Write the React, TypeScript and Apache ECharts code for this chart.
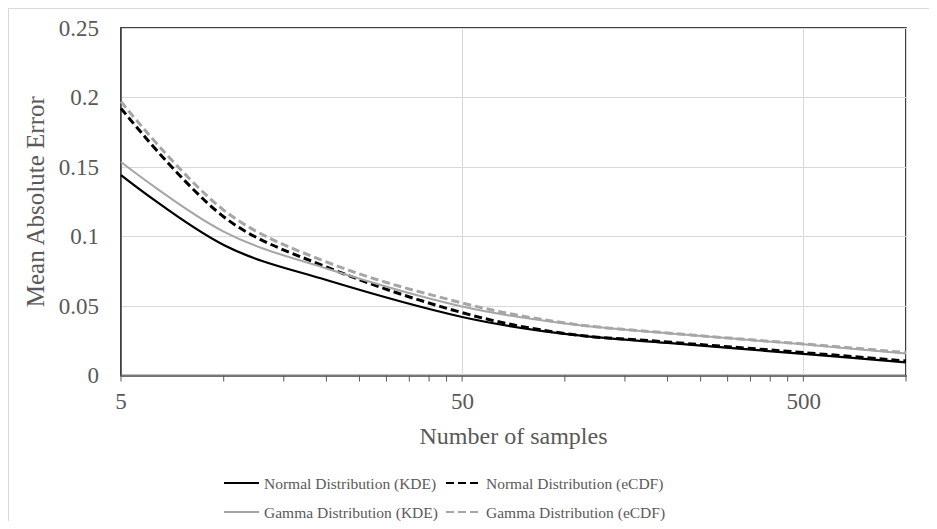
import React, { useEffect, useRef } from "react";
import * as echarts from "echarts";

const sampleSizes = [5, 10, 20, 50, 100, 200, 500, 1000];
const normalKDE = [0.1442, 0.0939, 0.0687, 0.0421, 0.0299, 0.0234, 0.0156, 0.0094];
const normalECDF = [0.1922, 0.1142, 0.0781, 0.0452, 0.0302, 0.0241, 0.0165, 0.0104];
const gammaKDE = [0.1536, 0.1035, 0.077, 0.0496, 0.0374, 0.0304, 0.0224, 0.0158];
const gammaECDF = [0.197, 0.119, 0.0817, 0.0522, 0.0378, 0.0306, 0.0227, 0.0165];
const tickSamples = [5, 10, 15, 20, 25, 30, 35, 40, 45, 50, 100, 150, 200, 250, 300, 350, 400, 450, 500, 1000];
const seriesNames = [
  "Normal Distribution (KDE)",
  "Normal Distribution (eCDF)",
  "Gamma Distribution (KDE)",
  "Gamma Distribution (eCDF)",
];

const FONT = "Liberation Serif";
const TXT = "#595959";

export default function App() {
  const ref = useRef<HTMLDivElement>(null);
  useEffect(() => {
    if (!ref.current) return;
    const chart = echarts.init(ref.current, undefined, { renderer: "svg" });
    const pts = (vals: number[]) => sampleSizes.map((n, i) => [Math.log10(n), vals[i]]);
    const mkLine = (name: string, vals: number[], color: string, width: number, dashed: boolean) => ({
      name,
      type: "line",
      data: pts(vals),
      symbol: "none",
      smooth: 0.35,
      lineStyle: { color, width, type: dashed ? [8, 4] : "solid" },
      itemStyle: { color },
      z: 3,
    });
    const legendBase = {
      orient: "horizontal",
      padding: 0,
      itemWidth: 35,
      itemHeight: 14,
      itemGap: 5,
      itemStyle: { opacity: 0 },
      textStyle: { fontFamily: FONT, fontSize: 15.5, color: TXT },
      selectedMode: false,
    };
    chart.setOption({
      animation: false,
      backgroundColor: "#fff",
      graphic: [
        { type: "line", shape: { x1: 0.5, y1: 0, x2: 0.5, y2: 513 }, style: { stroke: "#d9d9d9", lineWidth: 1 } },
        { type: "line", shape: { x1: 0, y1: 0.5, x2: 921, y2: 0.5 }, style: { stroke: "#d9d9d9", lineWidth: 1 } },
      ],
      grid: { left: 113, top: 20, right: 23, bottom: 145.5, show: true, borderColor: "#000", borderWidth: 1.5, backgroundColor: "transparent" },
      legend: [
        { ...legendBase, data: [seriesNames[0]], left: 215, top: 467 },
        { ...legendBase, data: [seriesNames[1]], left: 437, top: 467 },
        { ...legendBase, data: [seriesNames[2]], left: 215, top: 496 },
        { ...legendBase, data: [seriesNames[3]], left: 437, top: 496 },
      ],
      xAxis: {
        type: "value",
        min: Math.log10(5),
        max: 3,
        interval: 1,
        name: "Number of samples",
        nameLocation: "middle",
        nameGap: 48,
        nameTextStyle: { fontFamily: FONT, fontSize: 24, color: TXT },
        axisLine: { show: true, lineStyle: { color: "#595959", width: 1.5 } },
        axisTick: { show: false },
        axisLabel: {
          margin: 14,
          fontFamily: FONT,
          fontSize: 23,
          color: TXT,
          formatter: (v: number) => (v > 2.9 ? "" : String(Number(Math.pow(10, v).toPrecision(1)))),
        },
        splitLine: { show: true, lineStyle: { color: "#d9d9d9", width: 1 } },
      },
      yAxis: {
        type: "value",
        min: 0,
        max: 0.25,
        interval: 0.05,
        name: "Mean Absolute Error",
        nameLocation: "middle",
        nameGap: 54,
        nameTextStyle: { fontFamily: FONT, fontSize: 25, color: TXT },
        axisLine: { show: true, lineStyle: { color: "#404040", width: 1.5 } },
        axisTick: { show: false },
        axisLabel: { margin: 22, fontFamily: FONT, fontSize: 23, color: TXT, formatter: (v: number) => String(Number(v.toFixed(2))) },
        splitLine: { show: true, lineStyle: { color: "#d9d9d9", width: 1 } },
      },
      series: [
        mkLine(seriesNames[0], normalKDE, "#000000", 2.25, false),
        mkLine(seriesNames[1], normalECDF, "#000000", 3, true),
        mkLine(seriesNames[2], gammaKDE, "#a6a6a6", 2, false),
        mkLine(seriesNames[3], gammaECDF, "#a6a6a6", 3, true),
        {
          type: "custom",
          silent: true,
          clip: false,
          data: tickSamples.map((n) => [Math.log10(n), 0]),
          renderItem: (_p: any, api: any) => {
            const p = api.coord([api.value(0), 0]);
            return {
              type: "line",
              shape: { x1: p[0], y1: p[1], x2: p[0], y2: p[1] + 6 },
              style: { stroke: "#595959", lineWidth: 1 },
            };
          },
          z: 1,
        },
      ],
    });
    return () => chart.dispose();
  }, []);
  return <div ref={ref} style={{ width: 921, height: 513 }} />;
}
